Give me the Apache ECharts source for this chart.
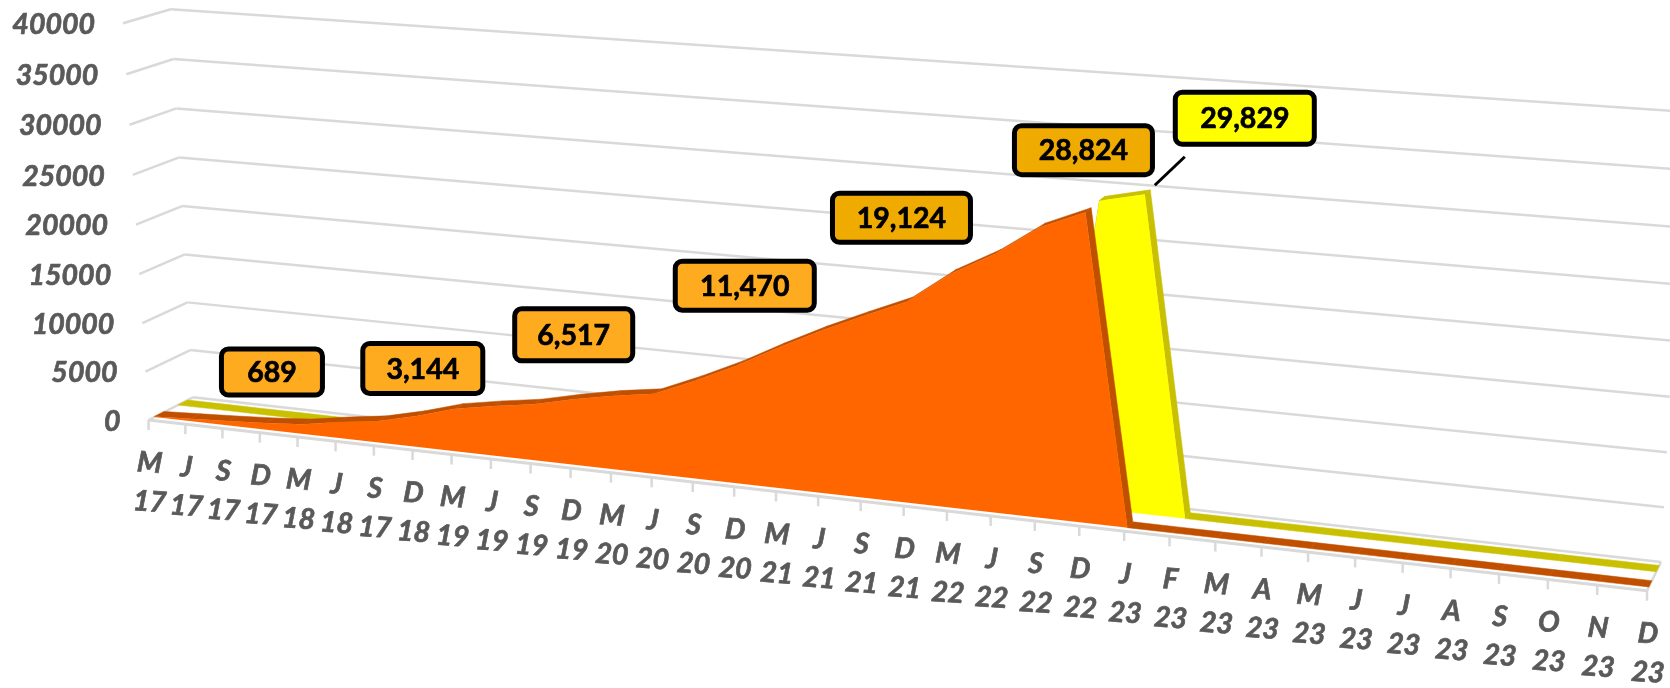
<!DOCTYPE html>
<html>
<head>
<meta charset="utf-8">
<style>html,body{margin:0;padding:0;background:#fff}#c{width:1670px;height:688px}</style>
<script src="https://cdn.jsdelivr.net/npm/echarts@6/dist/echarts.min.js"></script>
</head>
<body>
<div id="c"></div>
<script>
// ---- data ----
var months = ['M','J','S','D','M','J','S','D','M','J','S','D','M','J','S','D','M','J','S','D','M','J','S','D','J','F','M','A','M','J','J','A','S','O','N','D'];
var years  = ['17','17','17','17','18','18','17','18','19','19','19','19','20','20','20','20','21','21','21','21','22','22','22','22','23','23','23','23','23','23','23','23','23','23','23','23'];
var yTicks = [0,5000,10000,15000,20000,25000,30000,35000,40000];
var orangeValues = [60,250,450,689,1000,1650,2200,3144,4300,5000,5600,6517,7300,7900,9600,11470,13600,15600,17400,19124,22100,24300,27100,28824,0,0,0,0,0,0,0,0,0,0,0,0];
var yellowValues = [0,0,0,0,0,0,0,0,0,0,0,0,0,0,0,0,0,0,0,0,0,0,0,28900,29829,0,0,0,0,0,0,0,0,0,0,0];
var calloutIndexes = [3,7,11,15,19,23];
var peakIndex = 24;

// ---- layout of the perspective box ----
var BACK  = [[193,397.3],[1661,562],[170.7,9.3],[1685,111.7]];   // (u,v) = (0,0),(1,0),(0,1),(1,1)
var FRONT = [[148.6,420],[1647,590.7],[123,23.3],[1672,130.7]];
var ORANGE_DEPTH = [0.13,0.35], YELLOW_DEPTH = [0.66,0.88];
var calloutLayout = {
  3:{dx:7,dy:-51,w:101,h:46,fill:'#FFAB20'},
  7:{dx:6.5,dy:-47.5,w:120,h:50,fill:'#FFAB20'},
  11:{dx:0.5,dy:-64.5,w:118,h:52,fill:'#FFAB20'},
  15:{dx:8.5,dy:-80,w:139,h:49,fill:'#FFAB20'},
  19:{dx:-5,dy:-84,w:138,h:49,fill:'#F0AB00'},
  23:{dx:-2,dy:-62,w:138,h:49,fill:'#F0AB00'}
};
var peakLayout = {dx:100,dy:-76,w:139,h:52,fill:'#FFFF00'};
var leader = {x1:10,y1:-9,x2:40,y2:-37.5};

function homography(q){
  var x0=q[0][0],y0=q[0][1],x1=q[1][0],y1=q[1][1],x2=q[3][0],y2=q[3][1],x3=q[2][0],y3=q[2][1];
  var dx1=x1-x2,dx2=x3-x2,sx=x0-x1+x2-x3,dy1=y1-y2,dy2=y3-y2,sy=y0-y1+y2-y3;
  var den=dx1*dy2-dx2*dy1;
  var g=(sx*dy2-dx2*sy)/den,h=(dx1*sy-sx*dy1)/den;
  var a=x1-x0+g*x1,b=x3-x0+h*x3,c=x0,d=y1-y0+g*y1,e=y3-y0+h*y3,f=y0;
  return function(u,v){var t=g*u+h*v+1;return [(a*u+b*v+c)/t,(d*u+e*v+f)/t];};
}
var hBack=homography(BACK), hFront=homography(FRONT);
function project(params,api,i,val,w){
  var p=api.coord([i,val]), s=params.coordSys;
  var u=(p[0]-s.x)/s.width, v=(s.y+s.height-p[1])/s.height;
  var a=hFront(u,v), b=hBack(u,v);
  return [a[0]+(b[0]-a[0])*w, a[1]+(b[1]-a[1])*w];
}
var last=months.length-1;
var LABEL_FONT='italic bold 28.5px Lato';

function axisText(t,align){return {text:t,font:LABEL_FONT,fill:'#595959',stroke:'#595959',lineWidth:0.7,align:align,verticalAlign:'middle'};}
function frame(params,api){
  if(params.dataIndex!==0) return null;
  var ch=[], st={stroke:'#D9D9D9',lineWidth:2.5,fill:null};
  function ln(a,b,style){ch.push({type:'line',shape:{x1:a[0],y1:a[1],x2:b[0],y2:b[1]},style:style||st});}
  yTicks.forEach(function(t){
    var f=project(params,api,0,t,0), b=project(params,api,0,t,1), r=project(params,api,last,t,1);
    if(t===0){ ln(f,project(params,api,last,0,0),{stroke:'#D9D9D9',lineWidth:3}); ln(project(params,api,last,0,0),r); }
    ln(f,b); ln(b,r);
    ch.push({type:'text',x:f[0]-28,y:f[1]+1.5,style:axisText(String(t),'right')});
  });
  months.forEach(function(m,i){
    var a=project(params,api,i,0,0);
    ln(a,[a[0],a[1]+10]);
    ch.push({type:'text',x:a[0]+1,y:a[1]+43,rotation:-0.07,style:axisText(m,'center')});
    ch.push({type:'text',x:a[0]+1,y:a[1]+82,rotation:-0.07,style:axisText(years[i],'center')});
  });
  return {type:'group',children:ch};
}
function topSurface(values,depth,color){
  return function(params,api){
    var i=params.dataIndex; if(i>=last) return null;
    var v0=values[i],v1=values[i+1];
    return {type:'polygon',shape:{points:[
      project(params,api,i,v0,depth[0]),project(params,api,i+1,v1,depth[0]),
      project(params,api,i+1,v1,depth[1]),project(params,api,i,v0,depth[1])]},
      style:{fill:color,stroke:color,lineWidth:0.5}};
  };
}
function frontFace(values,depth,color){
  return function(params,api){
    if(params.dataIndex!==0) return null;
    var pts=values.map(function(v,i){return project(params,api,i,v,depth[0]);});
    pts.push(project(params,api,last,0,depth[0]));
    pts.push(project(params,api,0,0,depth[0]));
    return {type:'polygon',shape:{points:pts},style:{fill:color}};
  };
}
function callout(params,api,i,val,depth,lay){
  var p=project(params,api,i,val,depth), cx=p[0]+lay.dx, cy=p[1]+lay.dy;
  return [
    {type:'rect',shape:{x:cx-lay.w/2,y:cy-lay.h/2,width:lay.w,height:lay.h,r:7},style:{fill:lay.fill,stroke:'#000',lineWidth:5}},
    {type:'text',x:cx,y:cy+1,style:{text:val.toLocaleString('en-US'),font:'bold 28.5px Lato',fill:'#000',stroke:'#000',lineWidth:0.7,align:'center',verticalAlign:'middle'}}
  ];
}
function callouts(params,api){
  if(params.dataIndex!==0) return null;
  var ch=[];
  calloutIndexes.forEach(function(i){ ch=ch.concat(callout(params,api,i,orangeValues[i],ORANGE_DEPTH[0],calloutLayout[i])); });
  var p=project(params,api,peakIndex,yellowValues[peakIndex],YELLOW_DEPTH[0]);
  ch.push({type:'line',shape:{x1:p[0]+leader.x1,y1:p[1]+leader.y1,x2:p[0]+leader.x2,y2:p[1]+leader.y2},style:{stroke:'#000',lineWidth:3}});
  ch=ch.concat(callout(params,api,peakIndex,yellowValues[peakIndex],YELLOW_DEPTH[0],peakLayout));
  return {type:'group',children:ch};
}
function idx(){return months.map(function(m,i){return [i,0];});}
function custom(fn,z,name){return {type:'custom',name:name,renderItem:fn,data:idx(),z:z,silent:true,clip:false,animation:false,encode:{x:0,y:1}};}

var chart=echarts.init(document.getElementById('c'),null,{renderer:'canvas'});
chart.setOption({
  animation:false,
  backgroundColor:'#fff',
  grid:{left:100,right:100,top:50,bottom:50,containLabel:false},
  xAxis:{type:'category',data:months.map(function(m,i){return m+' '+years[i];}),boundaryGap:false,show:false},
  yAxis:{type:'value',min:0,max:40000,interval:5000,show:false},
  series:[
    custom(frame,1,'frame'),
    custom(topSurface(yellowValues,YELLOW_DEPTH,'#C8C000'),2,'yellow top'),
    custom(frontFace(yellowValues,YELLOW_DEPTH,'#FFFF00'),3,'yellow'),
    custom(topSurface(orangeValues,ORANGE_DEPTH,'#C05000'),4,'orange top'),
    custom(frontFace(orangeValues,ORANGE_DEPTH,'#FF6600'),5,'orange'),
    custom(callouts,6,'labels')
  ]
});
</script>
</body>
</html>
